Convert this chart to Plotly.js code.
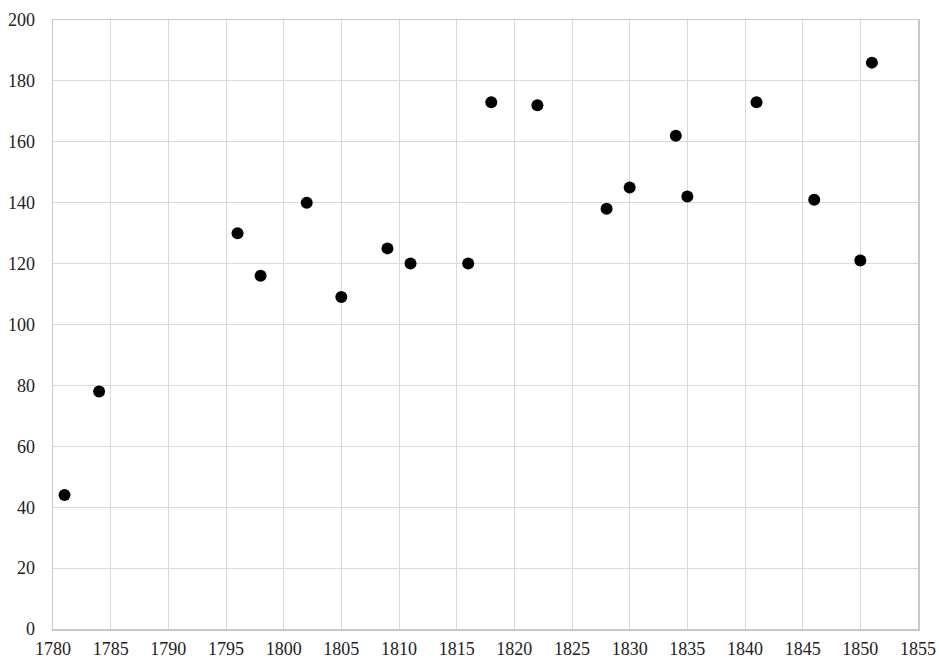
<!DOCTYPE html>
<html>
<head>
<meta charset="utf-8">
<script src="https://cdn.plot.ly/plotly-3.0.1.min.js"></script>
<style>html,body{margin:0;padding:0;background:#fff;}#chart{width:938px;height:661px;}</style>
</head>
<body>
<div id="chart"></div>
<script>
const years = [1781, 1784, 1796, 1798, 1802, 1805, 1809, 1811, 1816, 1818, 1822, 1828, 1830, 1834, 1835, 1841, 1846, 1850, 1851];
const values = [44, 78, 130, 116, 140, 109, 125, 120, 120, 173, 172, 138, 145, 162, 142, 173, 141, 121, 186];

const FONT = "'Liberation Serif', 'Times New Roman', Times, serif";

const trace = {
  x: years,
  y: values,
  mode: 'markers',
  type: 'scatter',
  marker: {color: '#000000', size: 12},
  hoverinfo: 'x+y'
};

const layout = {
  width: 938,
  height: 661,
  margin: {l: 53, r: 20, t: 20, b: 32},
  paper_bgcolor: '#ffffff',
  plot_bgcolor: '#ffffff',
  font: {family: FONT, size: 18, color: '#222222'},
  showlegend: false,
  xaxis: {
    range: [1780, 1855],
    dtick: 5,
    tick0: 1780,
    showgrid: true,
    gridcolor: '#d9d9d9',
    gridwidth: 1,
    zeroline: false,
    showline: true,
    linecolor: '#c8c8c8',
    linewidth: 1.5,
    mirror: true,
    ticks: '',
    ticklabelstandoff: 3,
    tickfont: {family: FONT, size: 18, color: '#222222'}
  },
  yaxis: {
    range: [0, 200],
    dtick: 20,
    showgrid: true,
    gridcolor: '#d9d9d9',
    gridwidth: 1,
    zeroline: false,
    showline: true,
    linecolor: '#c8c8c8',
    linewidth: 1.5,
    mirror: true,
    ticks: '',
    ticklabelstandoff: 13,
    tickfont: {family: FONT, size: 18, color: '#222222'}
  }
};

Plotly.newPlot('chart', [trace], layout, {displayModeBar: false, staticPlot: true});
</script>
</body>
</html>
